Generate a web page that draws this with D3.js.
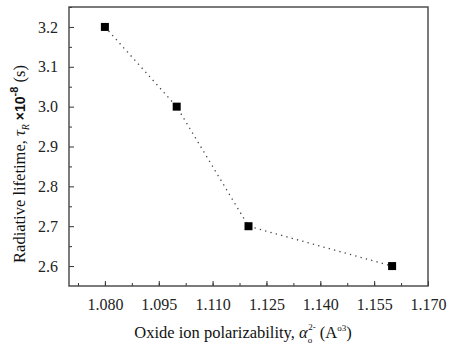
<!DOCTYPE html>
<html>
<head>
<meta charset="utf-8">
<script src="https://cdn.jsdelivr.net/npm/d3@7"></script>
<style>
body { margin: 0; background: #fff; }
</style>
</head>
<body>
<div class="chart"></div>
<script>
var polarizability = [1.080, 1.100, 1.120, 1.160];
var lifetime = [3.2, 3.0, 2.7, 2.6];
var xTicks = [1.080, 1.095, 1.110, 1.125, 1.140, 1.155, 1.170];
var yTicks = [2.6, 2.7, 2.8, 2.9, 3.0, 3.1, 3.2];

var serif = "'Liberation Serif', 'Times New Roman', Times, serif";

var svgWidth = 449;
var svgHeight = 356;
var margin = { top: 7, right: 21, bottom: 70, left: 69 };
var width = svgWidth - margin.left - margin.right;
var height = svgHeight - margin.top - margin.bottom;

var svg = d3.select(".chart")
    .append("svg")
    .attr("width", svgWidth)
    .attr("height", svgHeight)
    .attr("font-family", serif);

var chartGroup = svg.append("g")
    .attr("transform", `translate(${margin.left}, ${margin.top})`);

var x = d3.scaleLinear().domain([1.07, 1.17]).range([0, width]);
var y = d3.scaleLinear().domain([2.55, 3.25]).range([height, 0]);

// minor ticks halfway between majors
var xMinor = d3.range(0, 14).map(i => 1.0725 + i * 0.0075).filter(v => v < 1.1701);
var yMinor = d3.range(0, 7).map(i => 2.65 + i * 0.1);

var bottomAxis = d3.axisBottom(x)
    .tickValues(xTicks)
    .tickFormat(d3.format(".3f"))
    .tickSizeInner(-5)
    .tickSizeOuter(0)
    .tickPadding(13);

var leftAxis = d3.axisLeft(y)
    .tickValues(yTicks)
    .tickFormat(d3.format(".1f"))
    .tickSizeInner(-5)
    .tickSizeOuter(0)
    .tickPadding(11);

var xAxis = chartGroup.append("g")
    .attr("transform", `translate(0, ${height})`)
    .call(bottomAxis);

var yAxis = chartGroup.append("g")
    .call(leftAxis);

chartGroup.append("g")
    .attr("transform", `translate(0, ${height})`)
    .call(d3.axisBottom(x).tickValues(xMinor).tickSize(-3).tickFormat(""));

chartGroup.append("g")
    .call(d3.axisLeft(y).tickValues(yMinor).tickSize(-3).tickFormat(""));

chartGroup.selectAll(".domain").remove();
chartGroup.selectAll("g").attr("font-family", serif);
chartGroup.selectAll(".tick line").attr("stroke", "#333").attr("stroke-width", 1);
xAxis.selectAll("text").attr("font-size", "16px").attr("fill", "#222");
yAxis.selectAll("text").attr("font-size", "16px").attr("fill", "#222");

chartGroup.append("rect")
    .attr("width", width)
    .attr("height", height)
    .attr("fill", "none")
    .attr("stroke", "#444")
    .attr("stroke-width", 1.4);

var points = polarizability.map((d, i) => ({ x: d, y: lifetime[i] }));

var line = d3.line()
    .x(d => x(d.x))
    .y(d => y(d.y));

chartGroup.append("path")
    .datum(points)
    .attr("d", line)
    .attr("fill", "none")
    .attr("stroke", "#444")
    .attr("stroke-width", 1.3)
    .attr("stroke-dasharray", "1.3,4.2");

chartGroup.selectAll(".marker")
    .data(points)
    .enter()
    .append("rect")
    .attr("class", "marker")
    .attr("x", d => x(d.x) - 4)
    .attr("y", d => y(d.y) - 4)
    .attr("width", 8)
    .attr("height", 8)
    .attr("fill", "#000");

// x axis title
var xTitle = svg.append("text")
    .attr("x", 243)
    .attr("y", 338)
    .attr("text-anchor", "middle")
    .attr("font-size", "16.5px")
    .attr("fill", "#111");
xTitle.append("tspan").text("Oxide ion polarizability, ");
xTitle.append("tspan").attr("font-style", "italic").text("α");
xTitle.append("tspan").attr("font-size", "9px").attr("dy", 5).text("o");
xTitle.append("tspan").attr("font-size", "9px").attr("dx", -4).attr("dy", -13).text("2-");
xTitle.append("tspan").attr("dy", 8).text(" (A");
xTitle.append("tspan").attr("font-size", "9px").attr("dy", -7).text("o3");
xTitle.append("tspan").attr("dy", 7).text(")");

// y axis title
var yTitle = svg.append("text")
    .attr("transform", "translate(25, 164) rotate(-90)")
    .attr("text-anchor", "middle")
    .attr("font-size", "16.5px")
    .attr("fill", "#111");
yTitle.append("tspan").text("Radiative lifetime, ");
yTitle.append("tspan").attr("font-style", "italic").text("τ");
yTitle.append("tspan").attr("font-size", "10px").attr("font-style", "italic").attr("dy", 4).text("R");
yTitle.append("tspan").attr("dy", -4).attr("font-family", "'Liberation Sans', Arial, sans-serif").attr("font-weight", "bold").attr("font-size", "14px").text(" ×10");
yTitle.append("tspan").attr("font-size", "11px").attr("font-family", "'Liberation Sans', Arial, sans-serif").attr("font-weight", "bold").attr("dy", -7).text("-8");
yTitle.append("tspan").attr("dy", 7).text(" (s)");
</script>
</body>
</html>
